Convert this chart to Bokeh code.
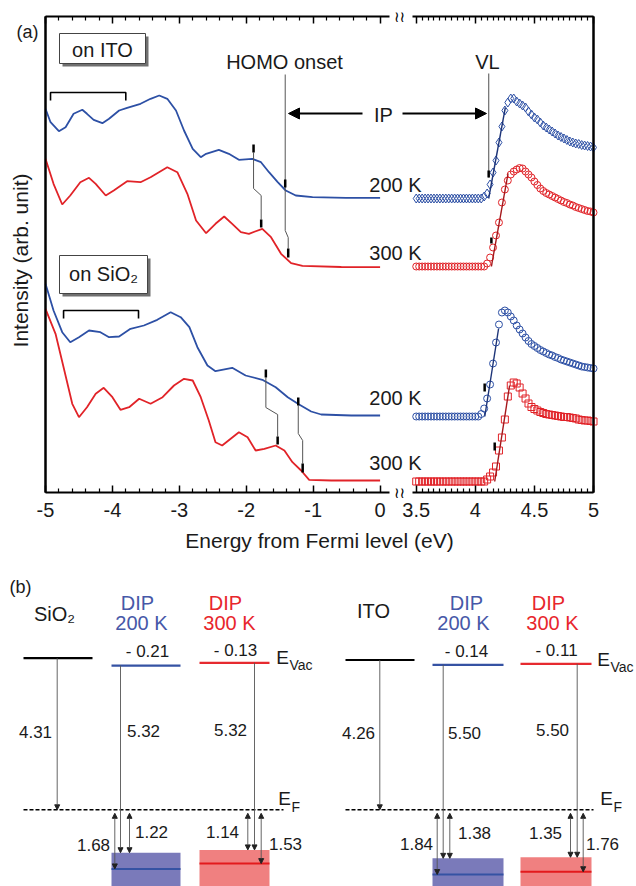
from bokeh.plotting import figure
from bokeh.models import (Range1d, LinearAxis, FixedTicker, Label, Arrow, NormalHead,
                          CustomLabelingPolicy)
from bokeh.embed import file_html
from bokeh.resources import INLINE

FONT = "Liberation Sans"
BLUE = "#2d50a5"
RED = "#e12328"
BLUE_DARK = "#1d3478"
RED_DARK = "#a5171b"

# ======================= DATA: panel (a) =======================
# valence-band region (energy from Fermi level, eV ; intensity, arb. units)
ITO_200K_E = [-5.00, -4.925, -4.80, -4.70, -4.58, -4.45, -4.38, -4.28, -4.15, -4.05, -3.90, -3.78, -3.58,
              -3.43, -3.30, -3.18, -3.05, -2.93, -2.80, -2.68, -2.60, -2.41, -2.26, -2.11, -1.91, -1.78,
              -1.66, -1.53, -1.41, -1.26, -1.01, -0.51, 0.0]
ITO_200K_I = [383.7, 370.3, 361.3, 365.3, 378.7, 382.7, 378.7, 372.7, 369.3, 373.7, 382, 384.7, 388.7,
              393.7, 397, 393.7, 382, 362, 343.7, 335.3, 338.7, 342.7, 338.7, 332.7, 333.7, 330.3,
              320.3, 310.3, 302, 297, 295.3, 294.7, 294.7]
ITO_300K_E = [-5.00, -4.88, -4.75, -4.63, -4.48, -4.35, -4.25, -4.10, -3.98, -3.78, -3.58, -3.43, -3.18,
              -3.03, -2.88, -2.75, -2.60, -2.46, -2.33, -2.21, -2.08, -1.96, -1.76, -1.63, -1.48, -1.33,
              -1.16, -0.58, 0.0]
ITO_300K_I = [333.7, 308.7, 288, 297, 310.3, 314.7, 308.7, 297, 302, 311.3, 310.3, 315.3, 325.3,
              320.3, 298.7, 272, 259.3, 268.7, 276, 268.7, 260.3, 258.7, 263.7, 255.3, 238.7, 229.3,
              226.7, 225.5, 225.3]
SIO2_200K_E = [-5.00, -4.88, -4.75, -4.63, -4.50, -4.35, -4.18, -4.05, -3.90, -3.73, -3.53, -3.33, -3.13,
               -2.98, -2.85, -2.73, -2.58, -2.46, -2.21, -2.01, -1.76, -1.56, -1.38, -1.21, -1.03, -0.88,
               -0.43, 0.0]
SIO2_200K_I = [208.7, 182, 160.3, 150.3, 155.3, 162, 160.3, 155.3, 156, 163.7, 167, 172.7, 180.3,
               175.3, 165.3, 145.3, 127, 121.3, 124.7, 117, 112.7, 105.3, 95.3, 88, 81, 78,
               77, 77]
SIO2_300K_E = [-5.00, -4.85, -4.73, -4.60, -4.50, -4.38, -4.25, -4.13, -4.00, -3.88, -3.75, -3.60, -3.43,
               -3.25, -3.08, -2.93, -2.80, -2.68, -2.56, -2.46, -2.36, -2.11, -1.98, -1.86, -1.73, -1.56,
               -1.43, -1.31, -1.18, -1.06, -0.73, 0.0]
SIO2_300K_I = [183.7, 158.7, 125.3, 88.7, 75.3, 85.3, 98.7, 104.7, 95.3, 82.7, 85.3, 93.7, 88.7,
               95.3, 107, 113.7, 112, 95.3, 72, 50.3, 47, 60.3, 55.3, 42, 43.7, 47,
               42, 30.3, 22, 12.7, 12, 12]

# secondary-electron cutoff region
CUT_E = [3.5, 3.525, 3.55, 3.575, 3.6, 3.625, 3.65, 3.675, 3.7, 3.725, 3.75, 3.775, 3.8, 3.825, 3.85,
         3.875, 3.9, 3.925, 3.95, 3.975, 4.0, 4.025, 4.05, 4.075, 4.1, 4.125, 4.15, 4.175, 4.2, 4.225,
         4.25, 4.275, 4.3, 4.325, 4.35, 4.375, 4.4, 4.425, 4.45, 4.475, 4.5, 4.525, 4.55, 4.575, 4.6,
         4.625, 4.65, 4.675, 4.7, 4.725, 4.75, 4.775, 4.8, 4.825, 4.85, 4.875, 4.9, 4.925, 4.95, 4.975, 5.0]
ITO_200K_CUT = [294, 294, 294, 294, 294, 294, 294, 294, 294, 294, 294, 294, 294, 294, 294, 294, 294, 294,
                294, 294, 294, 294, 294,
                296, 299, 308, 320, 332, 350, 366, 382, 390, 394, 394, 391, 389, 387, 385, 381, 378, 375,
                373, 370, 367, 365, 363, 361, 359, 357, 355.5, 354, 352.5, 351, 350, 349, 348.5, 347.5,
                347, 346.5, 346, 345]
ITO_300K_CUT = [226, 226, 226, 226, 226, 226, 226, 226, 226, 226, 226, 226, 226, 226, 226, 226, 226, 226,
                226, 226, 226, 226, 226, 226,
                229, 235, 245, 257, 270, 290, 303, 312, 318, 321, 323, 324.5, 324, 321, 318, 315, 311,
                307.5, 304, 301.5, 299.5, 298, 296.5, 295, 293.5, 292, 290.5, 289.5, 288, 287, 285.5,
                284.5, 283.5, 282.5, 281.5, 281, 280]
SIO2_200K_CUT = [76, 76, 76, 76, 76, 76, 76, 76, 76, 76, 76, 76, 76, 76, 76, 76, 76, 76, 76, 76, 76, 76,
                 78.5, 84, 94, 108, 129, 150, 168, 180, 182, 180, 176, 172, 167, 163, 159, 155, 151.5,
                 148.5, 146.5, 144.5, 142.5, 141, 139.5, 138, 137, 135.5, 134.5, 133, 132, 131, 130, 129,
                 128, 127, 126, 125.5, 125, 124.5, 124]
SIO2_300K_CUT = [11, 11, 11, 11, 11, 11, 11, 11, 11, 11, 11, 11, 11, 11, 11, 11, 11, 11, 11, 11, 11, 11,
                 11, 11,
                 13, 16, 20, 26, 42, 55, 73, 96, 107, 110, 109, 105, 99, 94, 89, 85.5, 83.5, 82, 80.5,
                 79.5, 78.5, 78, 77.5, 77, 76.5, 76, 75.5, 75.5, 75, 74.5, 74, 73, 72.5, 72, 72, 71.5, 71]

# linear extrapolations of the cutoff edge: (energy, intensity) start / end
FIT_ITO_200K = [(4.113, 294), (4.254, 385)]
FIT_ITO_300K = [(4.136, 226), (4.277, 319)]
FIT_SIO2_200K = [(4.080, 76), (4.197, 164)]
FIT_SIO2_300K = [(4.164, 11), (4.290, 107)]

# vacuum-level (VL) onsets: energy, intensity range of the marker
VL_MARKS = [(4.113, 315, 322), (4.136, 249, 255), (4.079, 101, 109), (4.164, 42, 50)]

# HOMO peak / onset markers: energy, intensity range of the marker
HOMO_MARKS = [(-1.891, 340, 348), (-1.777, 265, 273), (-1.418, 305, 313), (-1.373, 235, 244),
              (-1.707, 115, 123), (-1.531, 48, 56), (-1.223, 87, 95), (-1.157, 20, 29)]
HOMO_LINKS = [([-1.891, -1.891, -1.777, -1.777], [340, 304, 297, 273]),
              ([-1.418, -1.418, -1.373, -1.373], [418, 262, 255, 244]),
              ([-1.707, -1.707, -1.531, -1.531], [115, 85, 78, 56]),
              ([-1.223, -1.223, -1.157, -1.157], [87, 59, 52, 29])]

# brackets over the low-energy features: energy start, end, intensity top
BRACKETS = [(-4.925, -3.80, 400), (-4.73, -3.61, 182)]

# axis ticks
L_MAJOR = [-5, -4, -3, -2, -1, 0]
R_MAJOR = [3.5, 4.0, 4.5, 5.0]

# ======================= DATA: panel (b) =======================
SUBSTRATES = ["SiO\u2082", "ITO"]
WORK_FUNCTION = [4.31, 4.26]
VAC_SHIFT_200K = [-0.21, -0.14]
VAC_SHIFT_300K = [-0.13, -0.11]
IP_200K = [5.32, 5.50]
IP_300K = [5.32, 5.50]
HOMO_ONSET_200K = [1.22, 1.38]
HOMO_ONSET_300K = [1.14, 1.35]
HOMO_PEAK_200K = [1.68, 1.84]
HOMO_PEAK_300K = [1.53, 1.76]

# ======================= geometry =======================
W, H = 636, 886
AX_L, AX_R, AX_T, AX_B = 45, 593, 16, 492       # panel (a) frame in page pixels
IMAX = AX_B - AX_T
U35, KR = 0.54, 1.766          # broken axis: start and relative scale of the 3.5-5 eV segment


def ur(e):
    return round(U35 + (e - 3.5) * KR, 6)


UMAX = ur(5.0)
PXU = (AX_R - AX_L) / (UMAX + 5)


def ux(xp):   # page x -> panel (a) data x (annotation placement)
    return -5 + (xp - AX_L) / PXU


def iy(yp):   # page y -> panel (a) data y (annotation placement)
    return AX_B - yp


EF_PAGE, PX_PER_EV = 809.3, 35.17


def ey(yp):   # page y -> panel (b) energy
    return (EF_PAGE - yp) / PX_PER_EV


p = figure(width=W, height=H, x_range=Range1d(ux(0), ux(W)), y_range=Range1d(iy(H), iy(0)),
           min_border=0, x_axis_location=None, y_axis_location=None, output_backend="svg",
           toolbar_location=None, outline_line_color=None, background_fill_color="white",
           border_fill_color="white")
p.grid.visible = False
p.extra_x_ranges = {"bx": Range1d(0, W)}
p.extra_y_ranges = {"by": Range1d(ey(H), ey(0))}

# ---------------- axes of panel (a) (broken x axis) ----------------
NO_LABELS = CustomLabelingPolicy(code="return new Set()")


def add_axis(side, loc, bounds, ticks=(), minor=(), labels=None, axis_label=None, al_std=0, line=True,
             tick_len=(7, 4)):
    ax = LinearAxis(ticker=FixedTicker(ticks=list(ticks), minor_ticks=list(minor)),
                    fixed_location=loc, bounds=bounds)
    ax.axis_line_width = 2
    ax.axis_line_color = "black" if line else None
    ax.major_tick_in = tick_len[0]
    ax.major_tick_out = 0
    ax.minor_tick_in = tick_len[1]
    ax.minor_tick_out = 0
    ax.major_tick_line_width = 1.5
    ax.minor_tick_line_width = 1.2
    ax.major_tick_line_color = "black"
    ax.minor_tick_line_color = "black"
    ax.major_label_text_font = FONT
    ax.major_label_text_font_size = "20px"
    ax.major_label_text_color = "#1a1a1a"
    ax.major_label_standoff = 10
    if labels is not None:
        ax.major_label_overrides = labels
    elif len(ticks):
        ax.major_label_policy = NO_LABELS
    if axis_label:
        ax.axis_label = axis_label
        ax.axis_label_text_font = FONT
        ax.axis_label_text_font_size = "21px"
        ax.axis_label_text_font_style = "normal"
        ax.axis_label_text_color = "#1a1a1a"
        ax.axis_label_standoff = al_std
    p.add_layout(ax, side)


l_ticks = [float(v) for v in L_MAJOR]
l_minor = [round(-5 + 0.2 * k, 3) for k in range(26) if k % 5]
r_ticks = [ur(v) for v in R_MAJOR]
r_minor = [ur(3.5 + 0.05 * k) for k in range(31) if k % 10]
l_labels = {float(v): "%g" % v for v in L_MAJOR}
r_labels = {ur(v): "%g" % v for v in R_MAJOR}
BREAK_L, BREAK_R = ux(389), ux(412)

add_axis("below", 0, (-5, BREAK_L), l_ticks, l_minor, l_labels)
add_axis("below", 0, (BREAK_R, UMAX), r_ticks, r_minor, r_labels)
add_axis("above", IMAX, (-5, BREAK_L), l_ticks, l_minor)
add_axis("above", IMAX, (BREAK_R, UMAX), r_ticks, r_minor)
add_axis("left", -5, (0, IMAX), [0.0, float(IMAX)], tick_len=(0, 0))
add_axis("right", UMAX, (0, IMAX), [0.0, float(IMAX)], tick_len=(0, 0))
add_axis("below", 0, (-5, UMAX), axis_label="Energy from Fermi level (eV)", al_std=36, line=False)
add_axis("left", -5, (iy(260) - 150, iy(260) + 150), axis_label="Intensity (arb. unit)", al_std=14,
         line=False)
# side edges of the frame
p.segment(x0=[-5, UMAX], y0=[0, 0], x1=[-5, UMAX], y1=[IMAX, IMAX], line_color="black", line_width=2)

# ---------------- spectra ----------------
p.line(ITO_200K_E, ITO_200K_I, line_color=BLUE, line_width=1.8)
p.line(ITO_300K_E, ITO_300K_I, line_color=RED, line_width=1.8)
p.line(SIO2_200K_E, SIO2_200K_I, line_color=BLUE, line_width=1.8)
p.line(SIO2_300K_E, SIO2_300K_I, line_color=RED, line_width=1.8)

cut_u = [ur(e) for e in CUT_E]
p.scatter(cut_u, ITO_200K_CUT, marker="diamond", size=9, fill_color=None, line_color=BLUE, line_width=1)
p.scatter(cut_u, ITO_300K_CUT, marker="circle", size=7, fill_color=None, line_color=RED, line_width=1)
p.scatter(cut_u, SIO2_200K_CUT, marker="circle", size=7, fill_color=None, line_color=BLUE, line_width=1)
p.scatter(cut_u, SIO2_300K_CUT, marker="square", size=7, fill_color=None, line_color=RED, line_width=1)
for fit, col in [(FIT_ITO_200K, BLUE_DARK), (FIT_ITO_300K, RED_DARK),
                 (FIT_SIO2_200K, BLUE_DARK), (FIT_SIO2_300K, RED_DARK)]:
    p.line([ur(fit[0][0]), ur(fit[1][0])], [fit[0][1], fit[1][1]], line_color=col, line_width=1.4)

# VL line and marks
p.line([ur(VL_MARKS[0][0])] * 2, [iy(73), VL_MARKS[0][1]], line_color="#777777", line_width=1.3)
p.segment([ur(m[0]) for m in VL_MARKS], [m[1] for m in VL_MARKS],
          [ur(m[0]) for m in VL_MARKS], [m[2] for m in VL_MARKS], line_color="black", line_width=2.5)

# HOMO marks and connectors
p.multi_line([l[0] for l in HOMO_LINKS], [l[1] for l in HOMO_LINKS], line_color="#555555", line_width=1)
p.segment([m[0] for m in HOMO_MARKS], [m[1] for m in HOMO_MARKS],
          [m[0] for m in HOMO_MARKS], [m[2] for m in HOMO_MARKS], line_color="black", line_width=2.5)

# brackets
for e0, e1, top_i in BRACKETS:
    p.line([e0, e0, e1, e1], [top_i - 8, top_i, top_i, top_i - 8], line_color="black", line_width=1.6)

# IP arrows
head = dict(size=11, fill_color="black", line_color="black")
p.add_layout(Arrow(end=NormalHead(**head), x_start=ux(362), y_start=iy(113), x_end=ux(288), y_end=iy(113),
                   line_color="black", line_width=1.8))
p.add_layout(Arrow(end=NormalHead(**head), x_start=ux(402), y_start=iy(113), x_end=ux(486), y_end=iy(113),
                   line_color="black", line_width=1.8))

# sample boxes with drop shadow
for x0, x1, y0, y1 in [(59, 145, 33, 63), (59, 147, 255, 293)]:
    p.quad(left=ux(x0 + 3), right=ux(x1 + 3), top=iy(y0 + 3), bottom=iy(y1 + 3),
           fill_color="#707070", line_color=None)
    p.quad(left=ux(x0), right=ux(x1), top=iy(y0), bottom=iy(y1),
           fill_color="white", line_color="#444444", line_width=1)


def label_a(txt, xp, yp, size, **kw):
    opts = dict(text_font=FONT, text_font_size=f"{size}px", text_align="center", text_baseline="middle",
                text_color="#1a1a1a")
    opts.update(kw)
    p.add_layout(Label(x=ux(xp), y=iy(yp), text=txt, **opts))


label_a("(a)", 27, 31, 18)
label_a("on ITO", 102, 49, 20)
label_a("on SiO\u2082", 103, 273, 20)
label_a("HOMO onset", 284, 61, 20)
label_a("VL", 487, 61, 20)
label_a("IP", 383, 114, 20)
for yp, t in [(184, "200 K"), (252, "300 K"), (397, "200 K"), (462, "300 K")]:
    label_a(t, 395, yp, 20)
# axis-break marks
for yp in (AX_T, AX_B):
    label_a("\u2240\u2240", 399, yp, 15, text_font="DejaVu Sans", text_color="black")

# ======================= panel (b) =======================
SUB_X = [(23, 92), (345, 414)]
D200_X = [(111, 180), (432, 503)]
D300_X = [(199, 269), (520, 591)]
EF_X = [(23, 283), (345, 593)]
WF_AX = [56.7, 379.3]
A200_X = [(114.3, 120, 129), (436.7, 442.7, 449.3)]     # peak, IP, onset
A300_X = [(247.3, 254, 260.7), (570, 576.7, 582.7)]     # onset, IP, peak
BAND_BOTTOM = -2.6
EF_GAP = 0.1
BOX200, BOX300 = "#7a7aba", "#f08080"
LV_BLUE, LV_RED = "#3552a3", "#e62a2f"
TXT_BLUE, TXT_RED = "#4658a8", "#e8262c"
B = dict(x_range_name="bx", y_range_name="by")

for d in range(2):
    wf = WORK_FUNCTION[d]
    v200 = wf + VAC_SHIFT_200K[d]
    v300 = wf + VAC_SHIFT_300K[d]
    p.quad(left=[D200_X[d][0], D300_X[d][0]], right=[D200_X[d][1], D300_X[d][1]],
           top=[-HOMO_ONSET_200K[d], -HOMO_ONSET_300K[d]], bottom=[BAND_BOTTOM, BAND_BOTTOM],
           fill_color=[BOX200, BOX300], line_color=None, **B)
    p.segment([D200_X[d][0], D300_X[d][0]], [-HOMO_PEAK_200K[d], -HOMO_PEAK_300K[d]],
              [D200_X[d][1], D300_X[d][1]], [-HOMO_PEAK_200K[d], -HOMO_PEAK_300K[d]],
              line_color=[LV_BLUE, "#e31a1c"], line_width=2, **B)
    p.segment([SUB_X[d][0], D200_X[d][0], D300_X[d][0]], [wf, v200, v300],
              [SUB_X[d][1], D200_X[d][1], D300_X[d][1]], [wf, v200, v300],
              line_color=["black", LV_BLUE, LV_RED], line_width=2.2, **B)
    p.line(list(EF_X[d]), [0, 0], line_color="black", line_width=1.5, line_dash="4 2", **B)

    sh = dict(size=5, fill_color="#222222", line_color="#222222")
    ln = dict(line_color="#555555", line_width=0.9, **B)
    p.add_layout(Arrow(end=NormalHead(**sh), x_start=WF_AX[d], y_start=wf, x_end=WF_AX[d], y_end=0, **ln))
    p.add_layout(Arrow(end=NormalHead(**sh), x_start=A200_X[d][1], y_start=v200, x_end=A200_X[d][1],
                       y_end=v200 - IP_200K[d], **ln))
    p.add_layout(Arrow(end=NormalHead(**sh), x_start=A300_X[d][1], y_start=v300, x_end=A300_X[d][1],
                       y_end=v300 - IP_300K[d], **ln))
    for xa, val in [(A200_X[d][0], HOMO_PEAK_200K[d]), (A200_X[d][2], HOMO_ONSET_200K[d]),
                    (A300_X[d][0], HOMO_ONSET_300K[d]), (A300_X[d][2], HOMO_PEAK_300K[d])]:
        p.add_layout(Arrow(start=NormalHead(**sh), end=NormalHead(**sh), x_start=xa, y_start=-EF_GAP,
                           x_end=xa, y_end=-val, **ln))


def label_b(txt, xp, yp, size, color="#1a1a1a", align="center"):
    p.add_layout(Label(x=xp, y=ey(yp), text=txt, text_font=FONT, text_font_size=f"{size}px",
                       text_align=align, text_baseline="middle", text_color=color, **B))


def shift_txt(v):
    return ("- %.2f" % abs(v)) if v < 0 else ("%.2f" % v)


label_b("(b)", 20, 586, 18)
TXT = [dict(sub=(54, 613), dip200=(137, 602), k200=(141, 622), dip300=(225, 602), k300=(229, 622),
            s200=(147, 651), s300=(235, 650), wf=(35, 731), ip200=(143, 730), ip300=(230, 729),
            p200=(93, 844), o200=(151, 831), o300=(222, 831), p300=(285, 843),
            evac=(282, 657), ef=(284, 798)),
       dict(sub=(373, 610), dip200=(466, 602), k200=(463, 622), dip300=(548, 602), k300=(552, 622),
            s200=(466, 651), s300=(556, 650), wf=(358, 732), ip200=(464, 732), ip300=(552, 729),
            p200=(416, 843), o200=(474, 832), o300=(545, 832), p300=(602, 843),
            evac=(603, 659), ef=(606, 798))]
for d in range(2):
    t = TXT[d]
    label_b(SUBSTRATES[d], *t["sub"], 20)
    label_b("DIP", *t["dip200"], 20, TXT_BLUE)
    label_b("200 K", *t["k200"], 20, TXT_BLUE)
    label_b("DIP", *t["dip300"], 20, TXT_RED)
    label_b("300 K", *t["k300"], 20, TXT_RED)
    label_b(shift_txt(VAC_SHIFT_200K[d]), *t["s200"], 17)
    label_b(shift_txt(VAC_SHIFT_300K[d]), *t["s300"], 17)
    label_b("%.2f" % WORK_FUNCTION[d], *t["wf"], 17)
    label_b("%.2f" % IP_200K[d], *t["ip200"], 17)
    label_b("%.2f" % IP_300K[d], *t["ip300"], 17)
    label_b("%.2f" % HOMO_PEAK_200K[d], *t["p200"], 17)
    label_b("%.2f" % HOMO_ONSET_200K[d], *t["o200"], 17)
    label_b("%.2f" % HOMO_ONSET_300K[d], *t["o300"], 17)
    label_b("%.2f" % HOMO_PEAK_300K[d], *t["p300"], 17)
    ex, eyp = t["evac"]
    label_b("E", ex, eyp, 19)
    label_b("Vac", ex + 7, eyp + 7, 14, align="left")
    fx, fyp = t["ef"]
    label_b("E", fx, fyp, 19)
    label_b("F", fx + 7, fyp + 8, 14, align="left")

open("out.html", "w").write(file_html(p, INLINE))
